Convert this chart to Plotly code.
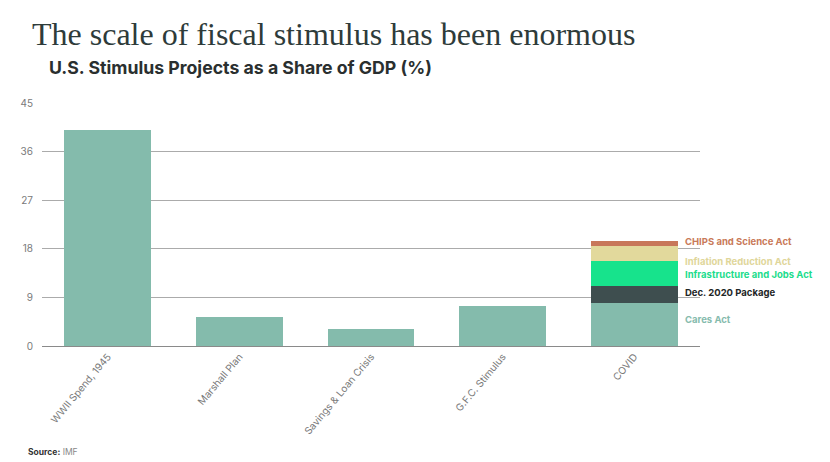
import plotly.graph_objects as go

categories = ["WWII Spend, 1945", "Marshall Plan", "Savings & Loan Crisis", "G.F.C. Stimulus", "COVID"]
base_values = [40.0, 5.3, 3.1, 7.5]

covid_parts = ["Cares Act", "Dec. 2020 Package", "Infrastructure and Jobs Act", "Inflation Reduction Act", "CHIPS and Science Act"]
covid_values = [8.0, 3.1, 4.6, 2.9, 0.8]
covid_colors = ["#84BBAC", "#3E4E4F", "#17E38C", "#E2D99C", "#C8775A"]
label_colors = ["#86BBAD", "#1E2626", "#1BDC8C", "#E0D69A", "#C97A59"]
label_y = [4.9, 9.9, 13.3, 15.7, 19.4]

y_ticks = [0, 9, 18, 27, 36, 45]

W, H, L, R, T, B = 830, 462, 42, 130, 103, 116
pw, ph = W - L - R, H - T - B
def px(x): return (x - L) / pw
def py(y): return (H - B - y) / ph

fig = go.Figure()
fig.add_trace(go.Bar(x=categories[:4], y=base_values, marker_color="#84BBAC",
                     marker_line_width=0, width=0.66, showlegend=False))
for name, v, c in zip(covid_parts, covid_values, covid_colors):
    fig.add_trace(go.Bar(x=[categories[4]], y=[v], marker_color=c, marker_line_width=0,
                         width=0.66, name=name, showlegend=False))

for name, ly, c in zip(covid_parts, label_y, label_colors):
    fig.add_annotation(x=4.37, y=ly, xref="x", yref="y", text="<b>%s</b>" % name,
                       showarrow=False, xanchor="left", yanchor="middle",
                       font=dict(family="Inter, Roboto, sans-serif", size=9.5, color=c))

fig.add_annotation(x=px(30), y=py(54), xref="paper", yref="paper",
                   text="The scale of fiscal stimulus has been enormous",
                   showarrow=False, xanchor="left", yanchor="bottom",
                   font=dict(family="Liberation Serif, serif", size=32, color="#2E3B3A"))
fig.add_annotation(x=px(47), y=py(80), xref="paper", yref="paper",
                   text="<b>U.S. Stimulus Projects as a Share of GDP (%)</b>",
                   showarrow=False, xanchor="left", yanchor="bottom",
                   font=dict(family="Inter, Roboto, sans-serif", size=17.7, color="#2A2F2F"))
fig.add_annotation(x=px(26), y=py(452), xref="paper", yref="paper",
                   text="<b>Source:</b> <span style='color:#888888'>IMF</span>",
                   showarrow=False, xanchor="left", yanchor="middle",
                   font=dict(family="Inter, Roboto, sans-serif", size=8.5, color="#333333"))

fig.update_layout(
    barmode="stack",
    width=W, height=H,
    margin=dict(l=L, r=R, t=T, b=B),
    paper_bgcolor="white", plot_bgcolor="white",
    font=dict(family="Inter, Roboto, sans-serif", color="#777777", size=10),
    xaxis=dict(tickangle=-50, showgrid=False, showline=True, linecolor="#8A8A8A", linewidth=1,
               ticks="", tickfont=dict(size=10, color="#7A7A7A"), range=[-0.5, 4.5]),
    yaxis=dict(range=[0, 45], tickvals=y_ticks, showgrid=True, gridcolor="#ABABAB", gridwidth=1,
               zeroline=False, ticks="", tickfont=dict(size=10, color="#7A7A7A"), ticklabelstandoff=8),
)

fig.write_html("out.html")
